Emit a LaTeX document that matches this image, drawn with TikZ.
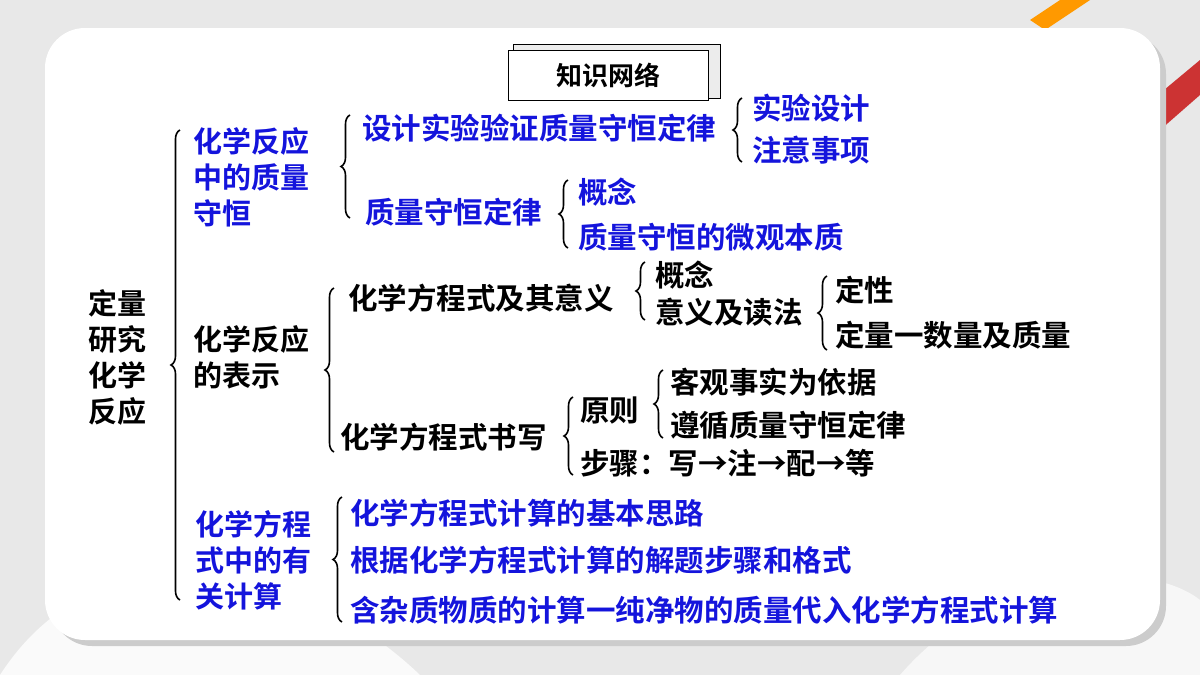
\documentclass[tikz,border=0pt]{standalone}
\usepackage{fontspec}
\newfontfamily\cjk{Noto Sans CJK SC}[BoldFont={Noto Sans CJK SC Bold}]
\usetikzlibrary{decorations.pathreplacing}
\definecolor{tblue}{RGB}{20,20,220}
\begin{document}
\begin{tikzpicture}[x=1pt,y=-1pt,
  t/.style={anchor=west,font=\cjk\bfseries\fontsize{29.5}{30}\selectfont,inner sep=0pt,text=black},
  tb/.style={t,text=tblue},
  ml/.style={t,align=left,font=\cjk\bfseries\fontsize{29}{36}\selectfont},
  br/.style={decorate,decoration={brace,amplitude=9pt},line width=1.6pt}]
\useasboundingbox (0,0) rectangle (1200,675);
\fill[gray!18] (0,0) rectangle (1200,675);
\fill[white!60!gray!10] (0,675) .. controls (100,520) and (300,560) .. (420,675) -- cycle;
\fill[white!70!gray!20] (900,675) .. controls (1000,560) and (1150,560) .. (1200,600) -- (1200,675) -- cycle;
% pencil
\fill[orange!80!yellow] (1030,20) -- (1060,0) -- (1090,0) -- (1045,30) -- cycle;
\fill[red!75!black!80] (1140,110) -- (1200,60) -- (1200,95) -- (1160,130) -- cycle;
\fill[gray!40,rounded corners=40pt] (52,34) rectangle (1166,646);
\fill[white,rounded corners=40pt] (45,28) rectangle (1160,640);
% title
\draw[line width=1pt,fill=gray!15] (513,44) rectangle (720,98);
\node[draw,line width=1pt,fill=white,minimum width=200pt,minimum height=50pt,font=\cjk\bfseries\fontsize{26}{30}\selectfont] (title) at (608,75) {知识网络};
% root
\node[ml] (root) at (88,357) {定量\\研究\\化学\\反应};
\draw[br] (180,600) -- (180,130);
% group 1
\node[ml,text=tblue] (g1) at (193,177) {化学反应\\中的质量\\守恒};
\draw[br] (350,218) -- (350,115);
\node[tb] (a1) at (362,128) {设计实验验证质量守恒定律};
\draw[br] (742,162) -- (742,98);
\node[tb] (a11) at (752,108) {实验设计};
\node[tb] (a12) at (752,150) {注意事项};
\node[tb] (a2) at (365,212) {质量守恒定律};
\draw[br] (568,248) -- (568,180);
\node[tb] (a21) at (578,192) {概念};
\node[tb] (a22) at (578,237) {质量守恒的微观本质};
% group 2
\node[ml] (g2) at (193,357) {化学反应\\的表示};
\draw[br] (334,452) -- (334,288);
\node[t] (b1) at (348,298) {化学方程式及其意义};
\draw[br] (645,320) -- (645,262);
\node[t] (b11) at (655,275) {概念};
\node[t] (b12) at (655,312) {意义及读法};
\draw[br] (827,350) -- (827,276);
\node[t] (b121) at (835,290) {定性};
\node[t] (b122) at (835,335) {定量一数量及质量};
\node[t] (b2) at (340,437) {化学方程式书写};
\draw[br] (573,475) -- (573,397);
\node[t] (b21) at (580,410) {原则};
\node[t] (b22) at (580,463) {步骤：写→注→配→等};
\draw[br] (663,438) -- (663,370);
\node[t] (b211) at (670,382) {客观事实为依据};
\node[t] (b212) at (670,425) {遵循质量守恒定律};
% group 3
\node[ml,text=tblue] (g3) at (195,560) {化学方程\\式中的有\\关计算};
\draw[br] (342,622) -- (342,497);
\node[tb] (c1) at (350,513) {化学方程式计算的基本思路};
\node[tb] (c2) at (350,560) {根据化学方程式计算的解题步骤和格式};
\node[tb] (c3) at (350,610) {含杂质物质的计算一纯净物的质量代入化学方程式计算};
\end{tikzpicture}
\end{document}
